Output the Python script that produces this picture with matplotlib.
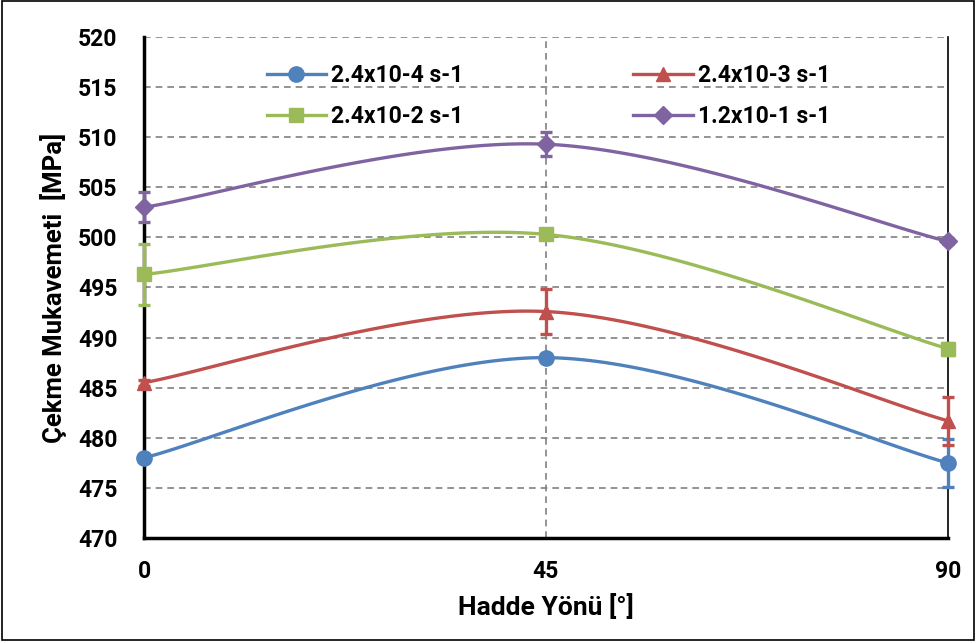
import matplotlib
matplotlib.use('Agg')
import matplotlib.pyplot as plt
import numpy as np
from matplotlib.patches import Rectangle

plt.rcParams.update({
    'font.family': ['Roboto', 'DejaVu Sans'],
    'font.weight': 'bold',
    'font.size': 16.5,
})

# Data
angles = [0, 45, 90]
labels = ['2.4x10-4 s-1', '2.4x10-3 s-1', '2.4x10-2 s-1', '1.2x10-1 s-1']
s1 = [478.0, 488.0, 477.5]
s2 = [485.5, 492.6, 481.7]
s3 = [496.3, 500.3, 488.9]
s4 = [503.0, 509.3, 499.6]
e1 = [0.4, 0.4, 2.4]
e2 = [0.3, 2.2, 2.4]
e3 = [3.0, 0.5, 0.6]
e4 = [1.5, 1.2, 0.3]

series = [s1, s2, s3, s4]
errors = [e1, e2, e3, e4]
colors = ['#4F81BD', '#C0504D', '#9BBB59', '#8064A2']
markers = ['o', '^', 's', 'D']
msizes = [11, 10.5, 10.5, 9]


def smooth(x, y, n=60):
    # Excel-style smoothed line (Catmull-Rom through the points)
    x = np.asarray(x, float)
    y = np.asarray(y, float)
    px = np.concatenate([[x[0]], x, [x[-1]]])
    py = np.concatenate([[y[0]], y, [y[-1]]])
    xs, ys = [], []
    t = np.linspace(0, 1, n)
    for i in range(1, len(px) - 2):
        p0, p1, p2, p3 = [np.array([px[j], py[j]]) for j in range(i - 1, i + 3)]
        c1 = p1 + (p2 - p0) / 6
        c2 = p2 - (p3 - p1) / 6
        for tt in t:
            b = ((1 - tt) ** 3) * p1 + 3 * ((1 - tt) ** 2) * tt * c1 \
                + 3 * (1 - tt) * tt ** 2 * c2 + tt ** 3 * p2
            xs.append(b[0])
            ys.append(b[1])
    return xs, ys


fig = plt.figure(figsize=(9.76, 6.41), dpi=100)
ax = fig.add_axes([0.1475, 0.1607, 0.8235, 0.7816])

handles = []
for s, e, c, m, ms, lab in zip(series, errors, colors, markers, msizes, labels):
    xs, ys = smooth(angles, s)
    ax.plot(xs, ys, color=c, lw=2.4, zorder=3, clip_on=False)
    ax.errorbar(angles, s, yerr=e, fmt='none', ecolor=c, elinewidth=2.4,
                capsize=4, capthick=2.4, zorder=4, clip_on=False)
    ax.plot(angles, s, ls='none', marker=m, ms=ms, color=c, zorder=5, clip_on=False)
    h, = ax.plot([], [], color=c, lw=2.4, marker=m, ms=ms, label=lab)
    handles.append(h)

ax.set_xlim(0, 90)
ax.set_ylim(470, 520)
ax.set_xticks(angles)
ax.set_yticks(np.arange(470, 521, 5))
ax.tick_params(axis='y', length=0, pad=19, labelsize=16.5)
ax.tick_params(axis='x', length=0, pad=16, labelsize=16.5)

for yv in range(475, 521, 5):
    ax.axhline(yv, color='#808080', ls=(0, (4, 3)), lw=1.2, zorder=1)
ax.axvline(45, color='#808080', ls=(0, (4, 3)), lw=1.2, zorder=1)

ax.spines['top'].set_visible(False)
ax.spines['right'].set_linewidth(1.2)
ax.spines['left'].set_linewidth(2.5)
ax.spines['bottom'].set_linewidth(2.5)

ax.set_xlabel('Hadde Yönü [°]', fontsize=19, fontweight='bold', labelpad=8)
ax.set_ylabel('Çekme Mukavemeti  [MPa]', fontsize=18.5, fontweight='bold', va='center')
ax.yaxis.set_label_coords(-0.113, 0.5)

# legend fills row-wise in the original
order = [0, 2, 1, 3]
ax.legend([handles[i] for i in order], [labels[i] for i in order],
          loc='upper left', bbox_to_anchor=(0.127, 0.987), ncol=2,
          frameon=False, fontsize=16.5, handlelength=2.6,
          columnspacing=7.43, labelspacing=0.79, handletextpad=0.2)

fig.add_artist(Rectangle((0.002, 0.002), 0.996, 0.996, transform=fig.transFigure,
                         fill=False, edgecolor='black', lw=1.2))

fig.savefig('out.png', dpi=100, facecolor='white')
plt.close()
